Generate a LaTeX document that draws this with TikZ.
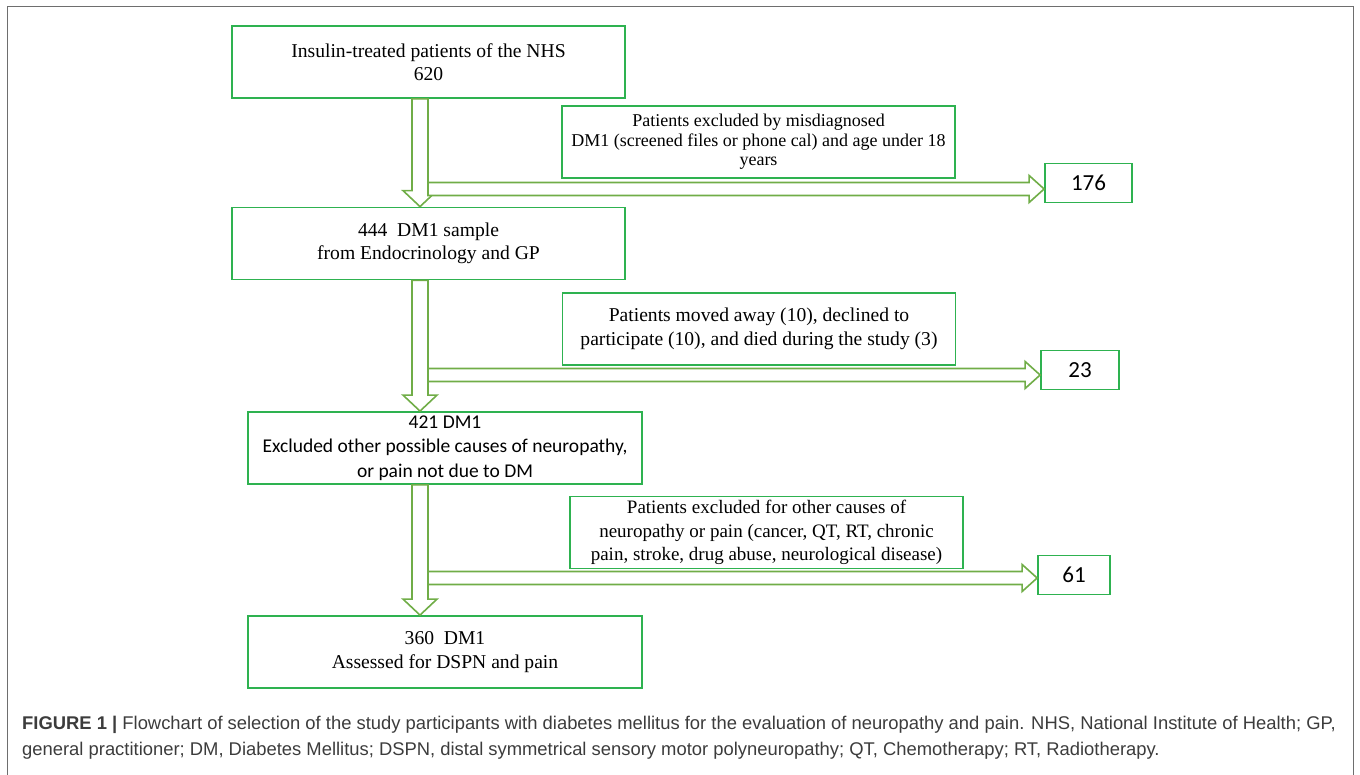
\documentclass[tikz,border=0pt]{standalone}
\usepackage{fontspec}
\setmainfont{Liberation Serif}
\setsansfont{Liberation Sans}
\newfontfamily\calibri{Carlito}
\usetikzlibrary{calc}

\definecolor{boxgreen}{RGB}{46,178,80}
\definecolor{arrgreen}{RGB}{112,173,71}
\definecolor{framegray}{RGB}{110,110,110}
\definecolor{capgray}{RGB}{60,60,60}

\tikzset{
  box/.style={draw=boxgreen, line width=1.8pt, fill=white, align=center,
    minimum width=393pt, minimum height=72pt, inner sep=0pt,
    font=\fontsize{19.6}{23.5}\selectfont},
  exclbox/.style={box, font=\fontsize{18}{19.5}\selectfont},
  countbox/.style={box, minimum width=#1, minimum height=39pt,
    font=\calibri\fontsize{23}{26}\selectfont},
  blockarr/.style={draw=arrgreen, line width=1.6pt, fill=white, line join=miter},
  caption/.style={align=left, inner sep=0pt, text=capgray,
    font=\sffamily\fontsize{18.4}{26}\selectfont}
}

\def\colx{420pt}
% block arrow down the left column
\newcommand{\downarr}[2]{%
  \draw[blockarr] let \p1=(#1.south), \p2=(#2.north) in
    (\colx-8pt,\y1) -- (\colx+8pt,\y1) -- (\colx+8pt,\y2+16pt)
    -- (\colx+17pt,\y2+16pt) -- (\colx,\y2) -- (\colx-17pt,\y2+16pt)
    -- (\colx-8pt,\y2+16pt) -- cycle;}
% block arrow from the column to a count box
\newcommand{\rightarr}[2]{%
  \draw[blockarr] let \p1=(#1), \p2=(#2.west) in
    (\x1,\y1+6.5pt) -- (\x2-15pt,\y1+6.5pt) -- (\x2-15pt,\y1+13.5pt)
    -- (\x2,\y1) -- (\x2-15pt,\y1-13.5pt) -- (\x2-15pt,\y1-6.5pt)
    -- (\x1,\y1-6.5pt) -- cycle;}

\begin{document}
\begin{tikzpicture}[x=1pt, y=-1pt]
  \useasboundingbox (0,0) rectangle (1360,775);
  \draw[framegray, line width=1.5pt] (7.5,790) -- (7.5,6.5) -- (1353.5,6.5) -- (1353.5,790);

  \node[box] (nhs) at (428.5,62) {Insulin-treated patients of the NHS\\620};
  \node[exclbox] (misdiag) at (758.5,142)
    {Patients excluded by misdiagnosed\\DM1 (screened files or phone cal) and age under 18\\years};
  \node[countbox=87pt] (n176) at (1088.5,183) {176};
  \node[box] (sample) at (428.5,243.5) {444~ DM1 sample\\from Endocrinology and GP};
  \node[box] (moved) at (759,329)
    {Patients moved away (10), declined to\\participate (10), and died during the study (3)};
  \node[countbox=78pt] (n23) at (1080,370) {23};
  \node[box, minimum width=394pt, font=\calibri\fontsize{19.5}{24.5}\selectfont] (dmone) at (445,448)
    {421 DM1\\Excluded other possible causes of neuropathy,\\or pain not due to DM};
  \node[box, font=\fontsize{19}{23.5}\selectfont] (causes) at (766.5,532.5)
    {Patients excluded for other causes of\\neuropathy or pain (cancer, QT, RT, chronic\\pain, stroke, drug abuse, neurological disease)};
  \node[countbox=72pt] (n61) at (1074,575) {61};
  \node[box, minimum width=394pt] (assessed) at (445,652) {360~ DM1\\Assessed for DSPN and pain};

  \coordinate (h1) at (428,189);
  \coordinate (h2) at (428,375);
  \coordinate (h3) at (428,578);

  \downarr{nhs}{sample}
  \rightarr{h1}{n176}
  \downarr{sample}{dmone}
  \rightarr{h2}{n23}
  \downarr{dmone}{assessed}
  \rightarr{h3}{n61}

  \node[caption, anchor=north west] (cap) at (22,716)
    {\textbf{FIGURE 1 |} Flowchart of selection of the study participants with diabetes mellitus for the evaluation of neuropathy and pain. NHS, National Institute of Health; GP,\\
     general practitioner; DM, Diabetes Mellitus; DSPN, distal symmetrical sensory motor polyneuropathy; QT, Chemotherapy; RT, Radiotherapy.};
\end{tikzpicture}
\end{document}
